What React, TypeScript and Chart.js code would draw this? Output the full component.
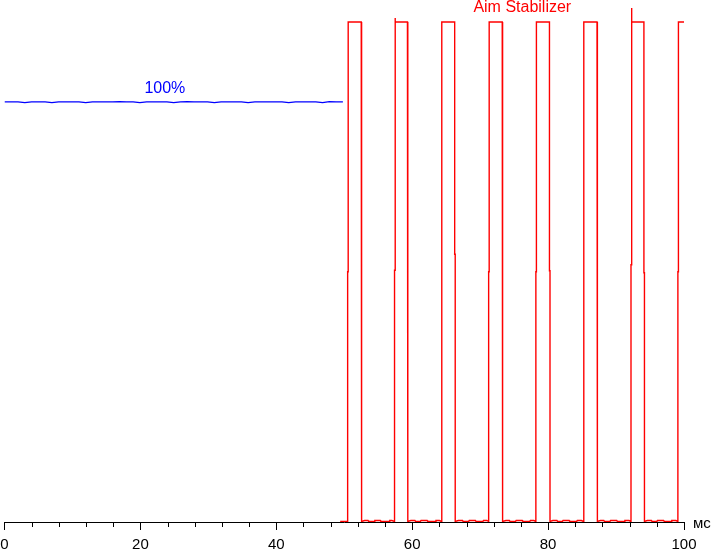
import React, { useEffect, useRef } from 'react';
import { Chart, registerables } from 'chart.js';

Chart.register(...registerables);

// ---- data ----
const xMin = 0;
const xMax = 100;
const minorStep = 4;
const majorStep = 20;
const unitLabel = 'мс';

const redLabel = 'Aim Stabilizer';
const blueLabel = '100%';

const highLevel = 100;
const lowLevel = 0;
const redStart = 49.4;
const edgeStep = 0.08;
const riseTimes = [50.5, 57.4, 64.3, 71.25, 78.2, 85.2, 92.2, 99.1];
const fallTimes = [52.5, 59.3, 66.25, 73.25, 80.2, 87.2, 94.1];
const riseMid = [50, 50.3, 50, 50, 50, 50, 51.4, 50];
const fallMid = [83.4, 49.8, 53.5, 49.8, 50.2, 50, 49.8];
const riseOvershoot = [100, 100.8, 100, 100, 100, 100, 102.8, 100];
const baselineNoise: [number, number][] = [
  [53.0, 0.2], [53.5, 0.2], [53.6, 0], [54.4, 0], [54.5, 0.2], [55.3, 0.2], [55.4, 0], [56.6, 0], [56.7, 0.2], [57.0, 0.2],
  [59.8, 0.2], [60.4, 0.2], [60.5, 0], [61.2, 0], [61.3, 0.2], [62.2, 0.2], [62.3, 0], [63.4, 0], [63.5, 0.2], [64.0, 0.2],
  [66.8, 0.2], [67.4, 0.2], [67.5, 0], [68.3, 0], [68.4, 0.2], [69.3, 0.2], [69.4, 0], [70.4, 0], [70.5, 0.2], [71.0, 0.2],
  [73.8, 0.2], [74.3, 0.2], [74.4, 0], [75.2, 0], [75.3, 0.2], [76.2, 0.2], [76.3, 0], [77.3, 0], [77.4, 0.2], [77.9, 0.2],
  [80.7, 0.2], [81.3, 0.2], [81.4, 0], [82.1, 0], [82.2, 0.2], [83.1, 0.2], [83.2, 0], [84.2, 0], [84.3, 0.2], [84.9, 0.2],
  [87.7, 0.2], [88.2, 0.2], [88.3, 0], [89.1, 0], [89.2, 0.2], [90.1, 0.2], [90.2, 0], [91.2, 0], [91.3, 0.2], [91.9, 0.2],
  [94.6, 0.2], [95.2, 0.2], [95.3, 0], [96.0, 0], [96.1, 0.2], [97.0, 0.2], [97.1, 0], [98.1, 0], [98.2, 0.2], [98.8, 0.2],
];

const blueSampleStep = 0.996;
const blueValues = [
  84.0, 84.0, 84.0, 83.85, 84.0, 84.0, 84.0, 83.85, 84.0, 84.0,
  84.0, 84.0, 83.85, 84.0, 84.0, 84.0, 84.0, 84.05, 84.0, 84.0,
  83.85, 84.0, 84.0, 84.0, 84.0, 83.85, 84.0, 84.05, 84.0, 84.0,
  84.0, 83.85, 84.0, 84.0, 84.0, 84.0, 83.85, 84.0, 84.0, 84.0,
  84.0, 84.0, 83.85, 84.0, 84.0, 84.0, 84.0, 83.85, 84.05, 84.0, 84.0,
];

// annotation anchors (in data units)
const blueLabelAt = { x: 23.6, y: 86.6 };
const redLabelAt = { x: 76.2, y: 102.9 };

function buildRed() {
  const pts: { x: number; y: number }[] = [{ x: redStart, y: lowLevel }];
  riseTimes.forEach((t, i) => {
    pts.push({ x: t, y: lowLevel }, { x: t, y: riseMid[i] }, { x: t + edgeStep, y: riseMid[i] }, { x: t + edgeStep, y: riseOvershoot[i] });
    if (riseOvershoot[i] !== highLevel) pts.push({ x: t + edgeStep * 1.5, y: highLevel });
    if (i < fallTimes.length) {
      const f = fallTimes[i];
      pts.push({ x: f, y: highLevel }, { x: f, y: fallMid[i] }, { x: f + edgeStep, y: fallMid[i] }, { x: f + edgeStep, y: lowLevel });
      baselineNoise
        .filter(([tt]) => tt > f && tt < riseTimes[i + 1])
        .forEach(([tt, v]) => pts.push({ x: tt, y: v }));
    } else {
      pts.push({ x: xMax, y: highLevel });
    }
  });
  return pts;
}

const FONT = '"Liberation Sans", Arial, sans-serif';

const extrasPlugin = {
  id: 'extras',
  afterDraw(chart: any) {
    const { ctx, chartArea } = chart;
    const x = chart.scales.x;
    const y = chart.scales.y;
    ctx.save();
    // minor ticks
    ctx.strokeStyle = '#000';
    ctx.lineWidth = 1;
    ctx.beginPath();
    x.ticks.forEach((t: any) => {
      if (t.value % majorStep !== 0) {
        const px = Math.round(x.getPixelForValue(t.value)) + 0.5;
        ctx.moveTo(px, chartArea.bottom);
        ctx.lineTo(px, chartArea.bottom + 5);
      }
    });
    ctx.stroke();
    ctx.font = '16px ' + FONT;
    ctx.textAlign = 'center';
    ctx.textBaseline = 'middle';
    ctx.fillStyle = '#0000ff';
    ctx.fillText(blueLabel, x.getPixelForValue(blueLabelAt.x), y.getPixelForValue(blueLabelAt.y));
    ctx.fillStyle = '#ff0000';
    ctx.fillText(redLabel, x.getPixelForValue(redLabelAt.x), y.getPixelForValue(redLabelAt.y));
    ctx.fillStyle = '#000';
    ctx.textAlign = 'left';
    ctx.textBaseline = 'alphabetic';
    ctx.font = '15px ' + FONT;
    ctx.fillText(unitLabel, chartArea.right + 9, chartArea.bottom + 6);
    ctx.restore();
  },
};

export default function App() {
  const ref = useRef<HTMLCanvasElement>(null);
  useEffect(() => {
    document.body.style.margin = '0';
    const blue = blueValues.map((v, i) => ({ x: i * blueSampleStep, y: v }));
    const chart = new Chart(ref.current!, {
      type: 'line',
      data: {
        datasets: [
          { label: redLabel, data: buildRed(), borderColor: '#ff0000', borderWidth: 1.4, pointRadius: 0, tension: 0 },
          { label: blueLabel, data: blue, borderColor: '#0000ff', borderWidth: 1.2, pointRadius: 0, tension: 0 },
        ],
      },
      options: {
        animation: false,
        responsive: false,
        layout: { padding: { left: 4.5, right: 27, top: 0, bottom: 0 } },
        plugins: { legend: { display: false }, tooltip: { enabled: false }, title: { display: false } },
        scales: {
          x: {
            type: 'linear',
            min: xMin,
            max: xMax,
            afterFit: (scale: any) => {
              scale.height = 28;
              scale.paddingLeft = 0;
              scale.paddingRight = 0;
            },
            grid: {
              display: true,
              drawOnChartArea: false,
              tickLength: 8,
              tickColor: (c: any) => (c.tick && c.tick.value % majorStep === 0 ? '#000' : 'rgba(0,0,0,0)'),
            },
            border: { display: true, color: '#000', width: 1 },
            ticks: {
              stepSize: minorStep,
              autoSkip: false,
              maxRotation: 0,
              color: '#000',
              padding: 6,
              font: { size: 15, family: FONT },
              callback: (v: any) => (Number(v) % majorStep === 0 ? String(v) : ''),
            },
          },
          y: { type: 'linear', display: false, min: -0.1, max: 104.4 },
        },
      },
      plugins: [extrasPlugin],
    });
    return () => chart.destroy();
  }, []);
  return (
    <div style={{ width: 711, height: 550, background: '#fff' }}>
      <canvas ref={ref} width={711} height={550} style={{ display: 'block' }} />
    </div>
  );
}
